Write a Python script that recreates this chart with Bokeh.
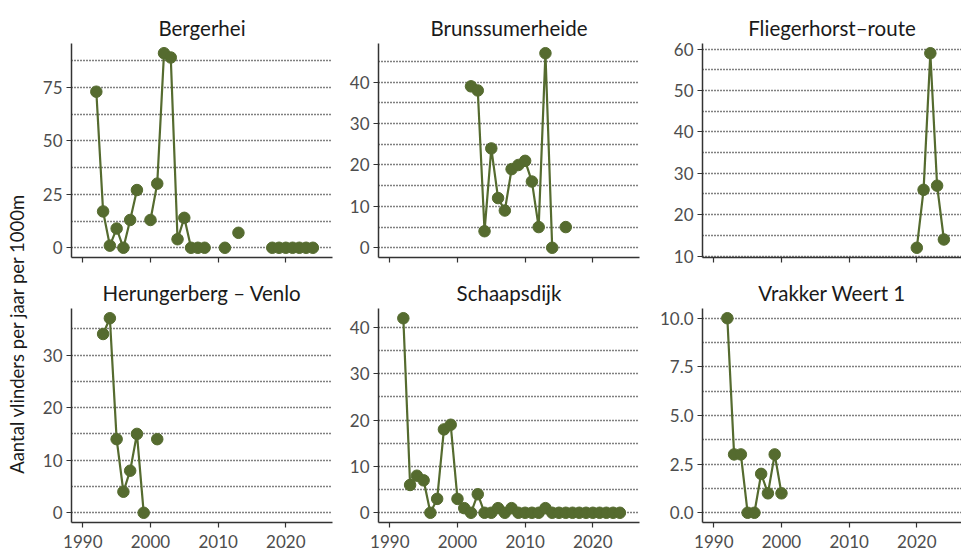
import numpy as np
from bokeh.plotting import figure
from bokeh.models import FixedTicker, PrintfTickFormatter, Label, ColumnDataSource, Range1d
from bokeh.layouts import row, column
from bokeh.embed import file_html
from bokeh.resources import INLINE

# ---------------- data ----------------
site_names = ["Bergerhei", "Brunssumerheide", "Fliegerhorst\u2013route",
              "Herungerberg \u2013 Venlo", "Schaapsdijk", "Vrakker Weert 1"]

years_bergerhei = list(range(1992, 2025))
vals_bergerhei = [73, 17, 1, 9, 0, 13, 27, None, 13, 30, 91, 89, 4, 14, 0, 0, 0,
                  None, None, 0, None, 7, None, None, None, None,
                  0, 0, 0, 0, 0, 0, 0]

years_brunssum = list(range(2002, 2017))
vals_brunssum = [39, 38, 4, 24, 12, 9, 19, 20, 21, 16, 5, 47, 0, None, 5]

years_flieger = list(range(2020, 2025))
vals_flieger = [12, 26, 59, 27, 14]

years_herunger = list(range(1993, 2002))
vals_herunger = [34, 37, 14, 4, 8, 15, 0, None, 14]

years_schaap = list(range(1992, 2025))
vals_schaap = [42, 6, 8, 7, 0, 3, 18, 19, 3, 1, 0, 4, 0, 0, 1, 0, 1, 0, 0, 0, 0, 1,
               0, 0, 0, 0, 0, 0, 0, 0, 0, 0, 0]

years_vrakker = list(range(1992, 2001))
vals_vrakker = [10, 3, 3, 0, 0, 2, 1, 3, 1]

yticks_bergerhei = [0, 25, 50, 75]
yticks_brunssum = [0, 10, 20, 30, 40]
yticks_flieger = [10, 20, 30, 40, 50, 60]
yticks_herunger = [0, 10, 20, 30]
yticks_schaap = [0, 10, 20, 30, 40]
yticks_vrakker = [0, 2.5, 5, 7.5, 10]

xticks = [1990, 2000, 2010, 2020]
y_title = "Aantal vlinders per jaar per 1000m"

# ---------------- style ----------------
GREEN = "#556B2F"
FONT = "Lato"
X0, X1 = 1988.33, 2026.9
FRAME_W = 261


def make_panel(title, years, vals, yticks, fmt, width, bl, br, frame_w,
               height, bt, bb, show_xlabels):
    v = np.array([np.nan if a is None else a for a in vals], dtype=float)
    lo, hi = np.nanmin(v), np.nanmax(v)
    pad = (hi - lo) * 0.05
    step = yticks[1] - yticks[0]
    minor = [t + step / 2 for t in [yticks[0] - step] + yticks]
    x_end = X0 + (X1 - X0) * frame_w / FRAME_W
    p = figure(width=width, height=height, output_backend="svg", toolbar_location=None,
               x_range=Range1d(X0, x_end), y_range=Range1d(lo - pad, hi + pad),
               min_border_left=bl, min_border_right=br, min_border_top=bt,
               min_border_bottom=bb, title=title)
    p.title.text_font = FONT
    p.title.text_font_size = "20.5px"
    p.title.text_font_style = "normal"
    p.title.text_color = "#1a1a1a"
    p.title.align = "center"
    p.title.standoff = 8
    p.outline_line_color = None
    p.background_fill_color = "white"
    p.border_fill_color = "white"
    p.xgrid.visible = False
    p.ygrid.ticker = FixedTicker(ticks=yticks, minor_ticks=minor)
    p.ygrid.grid_line_color = "black"
    p.ygrid.grid_line_dash = "1 2"
    p.ygrid.grid_line_width = 1.3
    p.ygrid.minor_grid_line_color = "black"
    p.ygrid.minor_grid_line_dash = "1 2"
    p.ygrid.minor_grid_line_width = 1.3
    p.yaxis.ticker = FixedTicker(ticks=yticks)
    p.xaxis.ticker = FixedTicker(ticks=xticks)
    if fmt:
        p.yaxis.formatter = PrintfTickFormatter(format=fmt)
    for ax in (p.xaxis, p.yaxis):
        ax.axis_line_color = "#333333"
        ax.axis_line_width = 1.5
        ax.major_tick_line_color = "#333333"
        ax.major_tick_line_width = 1.2
        ax.major_tick_in = 0
        ax.major_tick_out = 5
        ax.minor_tick_line_color = None
        ax.major_label_text_font = FONT
        ax.major_label_text_font_size = "17px"
        ax.major_label_text_color = "#4d4d4d"
        ax.major_label_standoff = 4
    if show_xlabels:
        p.xaxis.major_label_standoff = 7
    else:
        p.xaxis.major_label_overrides = {t: "" for t in xticks}
        p.xaxis.major_label_text_font_size = "0px"
        p.xaxis.major_label_standoff = 0
    src = ColumnDataSource(dict(year=years, val=v))
    p.line("year", "val", source=src, line_color=GREEN, line_width=2.2)
    p.scatter("year", "val", source=src, marker="circle", size=11.5,
              fill_color=GREEN, line_color=GREEN)
    return p


TOP_H, TOP_BT, TOP_BB = 268, 43, 11
BOT_H, BOT_BT, BOT_BB = 283, 40, 29

cols = [dict(width=304, bl=36, br=7, frame_w=261),
        dict(width=316, bl=39, br=16, frame_w=261),
        dict(width=306, bl=47, br=0, frame_w=259)]

panels = [
    (site_names[0], years_bergerhei, vals_bergerhei, yticks_bergerhei, None),
    (site_names[1], years_brunssum, vals_brunssum, yticks_brunssum, None),
    (site_names[2], years_flieger, vals_flieger, yticks_flieger, None),
    (site_names[3], years_herunger, vals_herunger, yticks_herunger, None),
    (site_names[4], years_schaap, vals_schaap, yticks_schaap, None),
    (site_names[5], years_vrakker, vals_vrakker, yticks_vrakker, "%.1f"),
]

figs = []
for i, (t, yrs, vals, yt, fmt) in enumerate(panels):
    c = cols[i % 3]
    if i < 3:
        f = make_panel(t, yrs, vals, yt, fmt, c["width"], c["bl"], c["br"], c["frame_w"],
                       TOP_H, TOP_BT, TOP_BB, False)
    else:
        f = make_panel(t, yrs, vals, yt, fmt, c["width"], c["bl"], c["br"], c["frame_w"],
                       BOT_H, BOT_BT, BOT_BB, True)
    figs.append(f)

LAB_W, LAB_H = 35, TOP_H + BOT_H
lf = figure(width=LAB_W, height=LAB_H, output_backend="svg", toolbar_location=None,
            x_axis_type=None, y_axis_type=None, min_border=0,
            x_range=Range1d(0, 1), y_range=Range1d(0, 1))
lf.outline_line_color = None
lf.background_fill_color = "white"
lf.border_fill_color = "white"
lf.add_layout(Label(x=16, y=LAB_H - 333, x_units="screen", y_units="screen",
                    text=y_title, angle=90, angle_units="deg",
                    text_align="center", text_baseline="middle",
                    text_font=FONT, text_font_size="18.5px", text_color="#1a1a1a"))

layout = row(lf, column(row(*figs[:3]), row(*figs[3:])))

open("out.html", "w").write(file_html(layout, INLINE))
